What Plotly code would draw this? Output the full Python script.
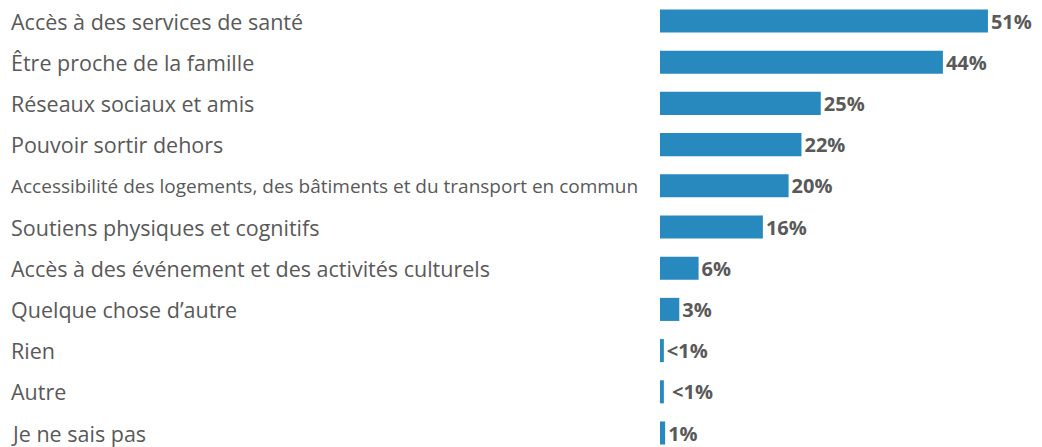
import plotly.graph_objects as go

categories = [
    "Accès à des services de santé",
    "Être proche de la famille",
    "Réseaux sociaux et amis",
    "Pouvoir sortir dehors",
    "Accessibilité des logements, des bâtiments et du transport en commun",
    "Soutiens physiques et cognitifs",
    "Accès à des événement et des activités culturels",
    "Quelque chose d’autre",
    "Rien",
    "Autre",
    "Je ne sais pas",
]
values = [51, 44, 25, 22, 20, 16, 6, 3, 0.6, 0.6, 0.8]
value_labels = ["51%", "44%", "25%", "22%", "20%", "16%", "6%", "3%", "<1%", " <1%", "1%"]
label_sizes = [21.5, 21.5, 21.5, 21.5, 19, 21.5, 21.5, 21.5, 21.5, 21.5, 21.5]

# page body has an 8px margin; figure sized to the visible area
OFF = 8
W, H = 1042 - OFF, 447 - OFF
positions = list(range(len(categories)))

bar_left = 660 - OFF
px_per_unit = 6.43
row_step = 41.2
row0 = 21 - OFF

fig = go.Figure()
fig.add_trace(go.Bar(
    x=values,
    y=positions,
    orientation="h",
    marker=dict(color="#2789BD", line=dict(width=0)),
    width=0.56,
    text=value_labels,
    textposition="outside",
    constraintext="none",
    textfont=dict(family="Open Sans", size=20, color="#595959", weight="bold"),
    cliponaxis=False,
    hoverinfo="skip",
))

for i, (c, s) in enumerate(zip(categories, label_sizes)):
    fig.add_annotation(
        x=(9 - OFF) / W, xref="paper", y=i, yref="y",
        text=c, showarrow=False, xanchor="left", yanchor="middle",
        font=dict(family="Open Sans", size=s, color="#595959"),
    )

fig.update_layout(
    width=W, height=H,
    margin=dict(l=0, r=0, t=0, b=0),
    plot_bgcolor="white", paper_bgcolor="white",
    showlegend=False,
    uniformtext=dict(mode=False),
    xaxis=dict(domain=[bar_left / W, 1], range=[0, (W - bar_left) / px_per_unit], visible=False),
    yaxis=dict(range=[(H - row0) / row_step, -row0 / row_step], visible=False),
)

fig.write_html("out.html")
